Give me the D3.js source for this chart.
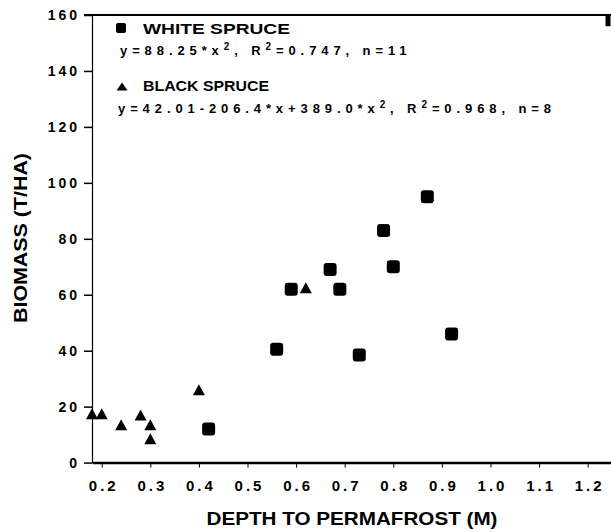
<!DOCTYPE html>
<html>
<head>
<meta charset="utf-8">
<script src="https://cdn.jsdelivr.net/npm/d3@7"></script>
<style>
  body { margin: 0; background: #fff; }
  text { font-family: "Liberation Sans", Arial, sans-serif; font-weight: bold; fill: #000; }
</style>
</head>
<body>
<div id="chart"></div>
<script>
// white spruce (squares)
const whiteDepth = [0.42, 0.56, 0.59, 0.67, 0.69, 0.73, 0.78, 0.80, 0.87, 0.92];
const whiteBiomass = [12, 40.5, 62, 69, 62, 38.5, 83, 70, 95, 46];
// black spruce (triangles)
const blackDepth = [0.18, 0.20, 0.24, 0.28, 0.30, 0.30, 0.40, 0.62];
const blackBiomass = [17.5, 17.5, 13.5, 17, 13.5, 8.5, 26, 62.5];

const xTicks = [0.2, 0.3, 0.4, 0.5, 0.6, 0.7, 0.8, 0.9, 1.0, 1.1, 1.2];
const yTicks = [0, 20, 40, 60, 80, 100, 120, 140, 160];

const width = 611, height = 532;

const svg = d3.select("#chart").append("svg")
  .attr("width", width)
  .attr("height", height);

const x = d3.scaleLinear().domain([0.18, 1.248]).range([92, 611]);
const y = d3.scaleLinear().domain([0, 160]).range([462.6, 15]);

// y axis
const yAxis = svg.append("g")
  .attr("transform", `translate(${x(0.18)},0)`)
  .call(d3.axisLeft(y).tickValues(yTicks).tickSize(8).tickSizeOuter(0).tickPadding(4));
yAxis.select(".domain").attr("stroke-width", 1.2);
yAxis.selectAll(".tick line").attr("stroke-width", 1.5);
yAxis.selectAll(".tick text")
  .attr("font-size", 14)
  .attr("font-family", "Liberation Sans, Arial, sans-serif")
  .attr("font-weight", "bold")
  .attr("letter-spacing", "3px");

// x axis
const xAxis = svg.append("g")
  .attr("transform", `translate(0,${y(0)})`)
  .call(d3.axisBottom(x).tickValues(xTicks).tickFormat(d3.format(".1f"))
    .tickSize(5).tickSizeOuter(0).tickPadding(13));
xAxis.select(".domain").attr("stroke-width", 2.5);
xAxis.selectAll(".tick text")
  .attr("font-size", 15)
  .attr("font-family", "Liberation Sans, Arial, sans-serif")
  .attr("font-weight", "bold")
  .attr("letter-spacing", "3px")
  .attr("dx", "1.5px");

// top frame line and stub of right axis
svg.append("line")
  .attr("x1", x(0.18) - 8).attr("x2", width)
  .attr("y1", y(160)).attr("y2", y(160))
  .attr("stroke", "#000").attr("stroke-width", 2);
svg.append("line")
  .attr("x1", width - 3).attr("x2", width - 3)
  .attr("y1", y(160)).attr("y2", y(156))
  .attr("stroke", "#000").attr("stroke-width", 5);

// axis titles
svg.append("text")
  .attr("x", 352).attr("y", 525)
  .attr("text-anchor", "middle")
  .attr("font-size", 19)
  .attr("textLength", 291).attr("lengthAdjust", "spacingAndGlyphs")
  .text("DEPTH TO PERMAFROST (M)");

svg.append("text")
  .attr("transform", "translate(27,238) rotate(-90)")
  .attr("text-anchor", "middle")
  .attr("font-size", 18)
  .attr("textLength", 170).attr("lengthAdjust", "spacingAndGlyphs")
  .text("BIOMASS (T/HA)");

// markers
const tri = (w, h) => `M0,${-h / 2}L${w / 2},${h / 2}L${-w / 2},${h / 2}Z`;

svg.append("g").selectAll("rect")
  .data(d3.zip(whiteDepth, whiteBiomass))
  .join("rect")
  .attr("x", d => x(d[0]) - 6.5)
  .attr("y", d => y(d[1]) - 6.5)
  .attr("width", 13).attr("height", 13)
  .attr("rx", 3)
  .attr("fill", "#000");

svg.append("g").selectAll("path")
  .data(d3.zip(blackDepth, blackBiomass))
  .join("path")
  .attr("transform", d => `translate(${x(d[0])},${y(d[1])})`)
  .attr("d", tri(12, 11))
  .attr("fill", "#000");

// legend
const leg = svg.append("g");
leg.append("rect")
  .attr("x", 116).attr("y", 23).attr("width", 10).attr("height", 10).attr("rx", 2)
  .attr("fill", "#000");
leg.append("text")
  .attr("x", 143).attr("y", 33.5)
  .attr("font-size", 14)
  .attr("textLength", 147).attr("lengthAdjust", "spacingAndGlyphs")
  .text("WHITE SPRUCE");

const f1 = leg.append("text")
  .attr("x", 120).attr("y", 55)
  .attr("font-size", 13)
  .attr("letter-spacing", "4.9px");
f1.append("tspan").text("y=88.25*x");
f1.append("tspan").attr("dy", -5).attr("font-size", 10).text("2");
f1.append("tspan").attr("dy", 5).text(", R");
f1.append("tspan").attr("dy", -5).attr("font-size", 10).text("2");
f1.append("tspan").attr("dy", 5).text("=0.747, n=11");

leg.append("path")
  .attr("transform", "translate(122,86.5)")
  .attr("d", tri(11, 8))
  .attr("fill", "#000");
leg.append("text")
  .attr("x", 143).attr("y", 91)
  .attr("font-size", 14)
  .attr("textLength", 126).attr("lengthAdjust", "spacingAndGlyphs")
  .text("BLACK SPRUCE");

const f2 = leg.append("text")
  .attr("x", 118).attr("y", 113)
  .attr("font-size", 13)
  .attr("letter-spacing", "4.9px");
f2.append("tspan").text("y=42.01-206.4*x+389.0*x");
f2.append("tspan").attr("dy", -5).attr("font-size", 10).text("2");
f2.append("tspan").attr("dy", 5).text(", R");
f2.append("tspan").attr("dy", -5).attr("font-size", 10).text("2");
f2.append("tspan").attr("dy", 5).text("=0.968, n=8");
</script>
</body>
</html>
